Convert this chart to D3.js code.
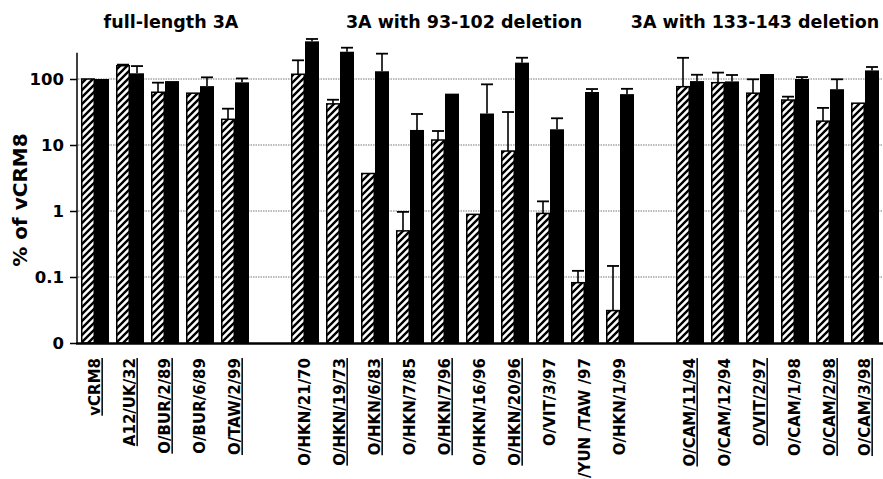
<!DOCTYPE html>
<html>
<head>
<meta charset="utf-8">
<script src="https://cdn.jsdelivr.net/npm/d3@7"></script>
<style>
  body { margin: 0; background: #fff; }
  text { font-family: "DejaVu Sans", sans-serif; font-weight: bold; fill: #000; }
</style>
</head>
<body>
<script>
var width = 883, height = 479;

var groupTitles = ["full-length 3A", "3A with 93-102 deletion", "3A with 133-143 deletion"],
    groupSizes  = [5, 10, 6];

var categories = ["vCRM8", "A12/UK/32", "O/BUR/2/89", "O/BUR/6/89", "O/TAW/2/99",
                  "O/HKN/21/70", "O/HKN/19/73", "O/HKN/6/83", "O/HKN/7/85", "O/HKN/7/96",
                  "O/HKN/16/96", "O/HKN/20/96", "O/VIT/3/97", "O/YUN /TAW /97", "O/HKN/1/99",
                  "O/CAM/11/94", "O/CAM/12/94", "O/VIT/2/97", "O/CAM/1/98", "O/CAM/2/98", "O/CAM/3/98"];
var underlined = [1, 1, 1, 0, 1,  0, 1, 1, 0, 1,  0, 1, 0, 0, 0,  1, 0, 1, 0, 1, 1];

// hatched series and its upper error, solid series and its upper error (% of vCRM8)
var hatched    = [100, 159, 63, 61, 24.5,  118, 42, 3.7, 0.5, 11.9,  0.89, 8.1, 0.92, 0.082, 0.031,  76.5, 88, 61, 48, 23, 43];
var hatchedErr = [0, 6, 25, 0, 11,  74, 6.5, 0, 0.47, 4.4,  0, 23.5, 0.48, 0.042, 0.116,  133, 37, 38, 6, 13.5, 0];
var solid      = [100, 122, 93, 78, 89,  372, 259, 131, 16.9, 60,  30, 177, 17.3, 63.5, 59,  93, 92, 119, 100, 70, 135];
var solidErr   = [0, 35, 0, 28, 13,  32, 39, 111, 12.6, 0,  53, 33, 8.1, 7, 12,  23, 23, 0, 7, 29, 17];

var yTickValues = [0.01, 0.1, 1, 10, 100],
    yTickLabels = ["0", "0.1", "1", "10", "100"];

var svg = d3.select("body").append("svg").attr("width", width).attr("height", height);

var defs = svg.append("defs");
var pat = defs.append("pattern").attr("id", "hatch")
    .attr("patternUnits", "userSpaceOnUse").attr("width", 7).attr("height", 7);
pat.append("rect").attr("width", 7).attr("height", 7).attr("fill", "#fff");
pat.append("path").attr("d", "M-1,8 L8,-1 M-2,2 L2,-2 M5,9 L9,5")
    .attr("stroke", "#000").attr("stroke-width", 2.4);

// slot index for every category: one blank slot between groups
var slotOf = [], gi = 0, count = 0;
categories.forEach(function(c, i) {
  if (count === groupSizes[gi]) { gi++; count = 0; }
  slotOf.push(i + gi);
  count++;
});
var nSlots = categories.length + groupSizes.length - 1;

var x = d3.scaleBand().domain(d3.range(nSlots)).range([77.5, 882.5]).paddingInner(0.2).paddingOuter(0.1);
var x1 = d3.scaleBand().domain(["hatched", "solid"]).range([0, x.bandwidth()]);
var y = d3.scaleLog().domain([0.01, 100]).range([343, 79]);

// gridlines
svg.append("g").selectAll("line").data(yTickValues.slice(1)).enter().append("line")
  .attr("x1", 78).attr("x2", 883)
  .attr("y1", function(d) { return y(d); }).attr("y2", function(d) { return y(d); })
  .attr("stroke", "#777").attr("stroke-width", 1).attr("stroke-dasharray", "1.5,1");

var rows = categories.map(function(c, i) {
  return {name: c, slot: slotOf[i], u: underlined[i],
          series: [{key: "hatched", v: hatched[i], e: hatchedErr[i]},
                   {key: "solid", v: solid[i], e: solidErr[i]}]};
});

var cat = svg.append("g").selectAll("g").data(rows).enter().append("g")
  .attr("transform", function(d) { return "translate(" + x(d.slot) + ",0)"; });

var bar = cat.selectAll("g").data(function(d) { return d.series; }).enter().append("g");

// error bars
bar.filter(function(d) { return d.e > 0; }).each(function(d) {
  var g = d3.select(this), cx = x1(d.key) + x1.bandwidth() / 2, top = y(d.v + d.e);
  g.append("line").attr("x1", cx).attr("x2", cx).attr("y1", y(d.v)).attr("y2", top)
    .attr("stroke", "#000").attr("stroke-width", 1.6);
  g.append("line").attr("x1", cx - 6).attr("x2", cx + 6).attr("y1", top).attr("y2", top)
    .attr("stroke", "#000").attr("stroke-width", 1.8);
});

bar.append("rect")
  .attr("x", function(d) { return x1(d.key) + (d.key === "hatched" ? 0.75 : 0); })
  .attr("y", function(d) { return y(d.v); })
  .attr("width", function(d) { return x1.bandwidth() - (d.key === "hatched" ? 1.5 : 0); })
  .attr("height", function(d) { return y(0.01) - y(d.v); })
  .attr("fill", function(d) { return d.key === "hatched" ? "url(#hatch)" : "#000"; })
  .attr("stroke", function(d) { return d.key === "hatched" ? "#000" : "none"; })
  .attr("stroke-width", 1.5);

// y axis
var yAxis = svg.append("g").attr("transform", "translate(77,0)")
  .call(d3.axisLeft(y).tickValues(yTickValues).tickSize(7).tickPadding(6)
    .tickFormat(function(d, i) { return yTickLabels[i]; }));
yAxis.select(".domain").remove();
yAxis.selectAll(".tick line").attr("stroke", "#000").attr("stroke-width", 1.5);
yAxis.selectAll(".tick text").attr("font-size", 16.5).attr("font-family", "DejaVu Sans").attr("font-weight", "bold");
svg.append("line").attr("x1", 77).attr("x2", 77).attr("y1", y(0.01)).attr("y2", y(250))
  .attr("stroke", "#000").attr("stroke-width", 1.5);

// x axis line
svg.append("line").attr("x1", 76).attr("x2", 883).attr("y1", y(0.01) + 0.5).attr("y2", y(0.01) + 0.5)
  .attr("stroke", "#000").attr("stroke-width", 2.5);

// category labels
cat.append("text")
  .attr("transform", "translate(" + (x.bandwidth() / 2) + ",358) rotate(-90)")
  .attr("text-anchor", "end").attr("dy", "0.36em").attr("font-size", 15)
  .style("text-decoration", function(d) { return d.u ? "underline" : "none"; })
  .text(function(d) { return d.name; });

// group titles
var titleX = [171, 464, 755];
svg.append("g").selectAll("text").data(groupTitles).enter().append("text")
  .attr("x", function(d, i) { return titleX[i]; }).attr("y", 28)
  .attr("text-anchor", "middle").attr("font-size", 17.5)
  .text(function(d) { return d; });

// y label
svg.append("text").attr("transform", "translate(27,200) rotate(-90)")
  .attr("text-anchor", "middle").attr("font-size", 20)
  .text("% of vCRM8");
</script>
</body>
</html>
